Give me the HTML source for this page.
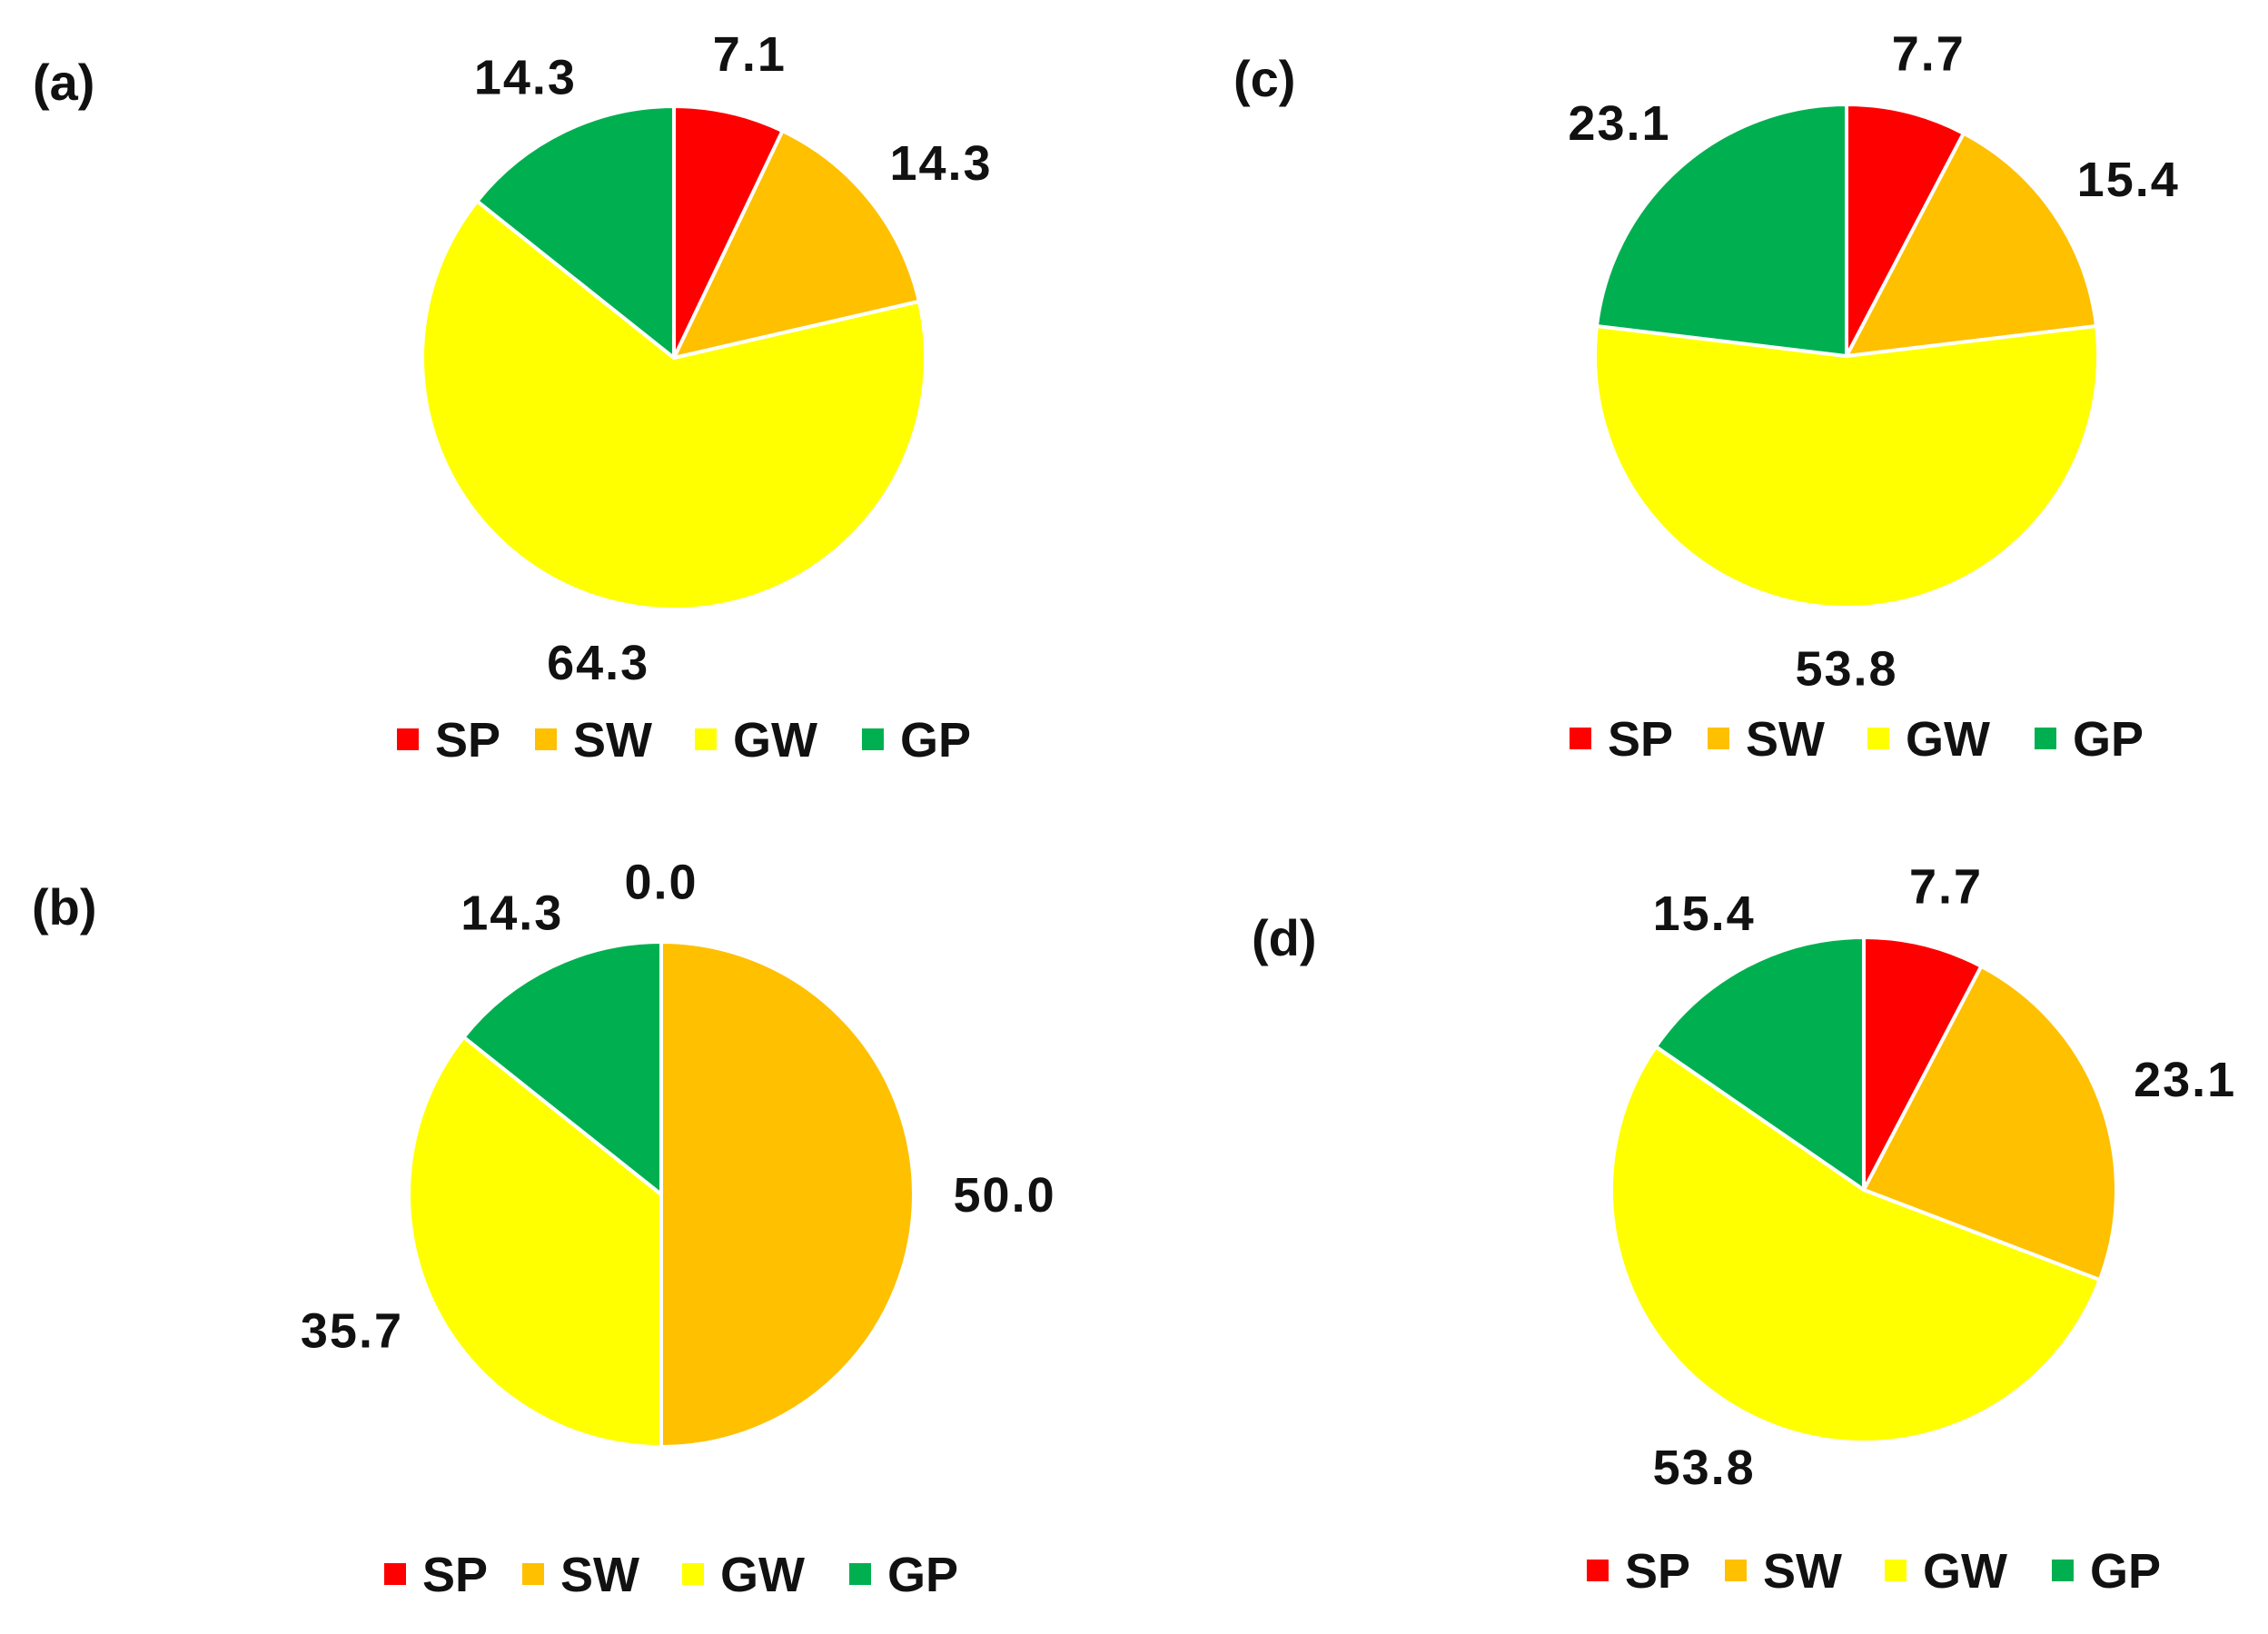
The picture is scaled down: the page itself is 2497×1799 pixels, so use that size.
<!DOCTYPE html>
<html><head><meta charset="utf-8"><style>
html,body{margin:0;padding:0;background:#fff;}
svg{display:block;font-family:"Liberation Sans",Arial,sans-serif;font-weight:bold;}
</style></head><body>
<svg id="fig" width="2497" height="1799" viewBox="0 0 2497 1799" xmlns="http://www.w3.org/2000/svg"></svg>
<script>
const categories = ["SP","SW","GW","GP"];
const colors = ["#ff0000","#ffc000","#ffff00","#00b050"];
const panelLabels = ["(a)","(b)","(c)","(d)"];
const valuesA = [7.1,14.3,64.3,14.3];
const valuesB = [0.0,50.0,35.7,14.3];
const valuesC = [7.7,15.4,53.8,23.1];
const valuesD = [7.7,23.1,53.8,15.4];

const svg = document.getElementById('fig');
const NS = 'http://www.w3.org/2000/svg';
function mk(t, attrs){const e=document.createElementNS(NS,t);for(const k in attrs)e.setAttribute(k,attrs[k]);return e;}

const panels = [
  {id:'a', vals:valuesA, cx:742, cy:394, r:277, tx:36, ty:110, legY:814},
  {id:'b', vals:valuesB, cx:728, cy:1315, r:278, tx:35, ty:1018, legY:1733},
  {id:'c', vals:valuesC, cx:2033, cy:392, r:277, tx:1358, ty:106, legY:813},
  {id:'d', vals:valuesD, cx:2052, cy:1310, r:278, tx:1378, ty:1052, legY:1729}
];

panels.forEach((p,pi)=>{
  const g = mk('g',{});
  
  
  svg.appendChild(g);
  const title = mk('text',{x:p.tx,y:p.ty,'font-size':56,fill:'#111'});
  
  
  title.textContent = panelLabels[pi];
  g.appendChild(title);
  const total = p.vals.reduce((s,v)=>s+v,0);
  let acc = 0;
  p.vals.forEach((v,i)=>{
    const a0 = acc/total*2*Math.PI, a1=(acc+v)/total*2*Math.PI;
    acc += v;
    if(v>0){
      const x0=p.cx+p.r*Math.sin(a0), y0=p.cy-p.r*Math.cos(a0);
      const x1=p.cx+p.r*Math.sin(a1), y1=p.cy-p.r*Math.cos(a1);
      const large = (a1-a0)>Math.PI?1:0;
      const path = mk('path',{d:`M${p.cx},${p.cy} L${x0},${y0} A${p.r},${p.r} 0 ${large} 1 ${x1},${y1} Z`,fill:colors[i],stroke:'#fff','stroke-width':4,'stroke-linejoin':'round'});
      
      
      g.appendChild(path);
    }
    const am=(a0+a1)/2;
    const lx=p.cx+p.r*1.36*Math.sin(am), ly=p.cy-p.r*1.24*Math.cos(am);
    const t = mk('text',{x:lx,y:ly+19,'text-anchor':'middle','font-size':54,'letter-spacing':2,fill:'#111'});
    
    
    t.textContent = v.toFixed(1);
    g.appendChild(t);
  });
  const leg = mk('g',{});
  
  
  g.appendChild(leg);
  const offs=[0,152,328,512];
  categories.forEach((c,i)=>{
    const x = p.cx-305+offs[i];
    const sq = mk('rect',{x:x,y:p.legY-12,width:24,height:24,fill:colors[i]});
    
    
    leg.appendChild(sq);
    const t = mk('text',{x:x+42,y:p.legY+19,'font-size':54,fill:'#111'});
    
    
    t.textContent = c;
    leg.appendChild(t);
  });
});
</script>
</body></html>
